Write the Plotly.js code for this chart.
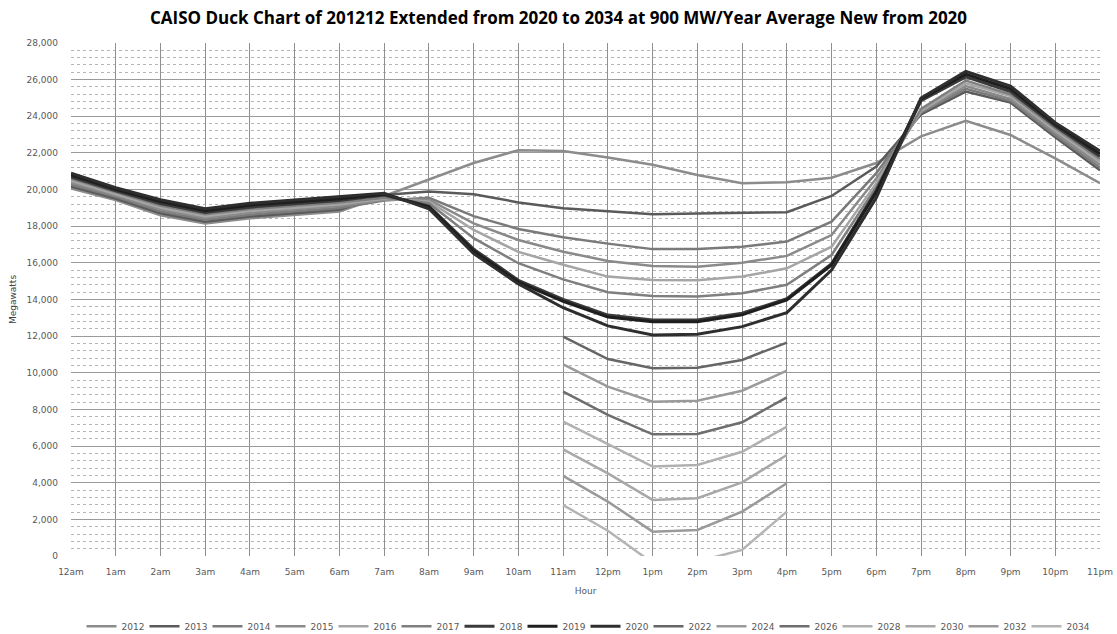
<!DOCTYPE html>
<html>
<head>
<meta charset="utf-8">
<script src="https://cdn.plot.ly/plotly-3.0.1.min.js"></script>
<style>html,body{margin:0;padding:0;background:#fff;}#chart{width:1117px;height:634px;}</style>
</head>
<body>
<div id="chart"></div>
<script>
const hours = ['12am','1am','2am','3am','4am','5am','6am','7am','8am','9am','10am','11am','12pm','1pm','2pm','3pm','4pm','5pm','6pm','7pm','8pm','9pm','10pm','11pm'];
const seriesNames = ['2012','2013','2014','2015','2016','2017','2018','2019','2020','2022','2024','2026','2028','2030','2032','2034'];

const y2012 = [20060,19430,18600,18150,18430,18600,18800,19650,20550,21450,22150,22100,21750,21350,20800,20350,20400,20650,21450,22900,23750,22980,21700,20350];
const y2013 = [20170,19510,18710,18250,18530,18700,18900,19700,19900,19750,19300,18980,18800,18650,18700,18740,18760,19650,21250,24100,25350,24750,22850,21050];
const y2014 = [20270,19600,18810,18350,18630,18810,19000,19400,19550,18550,17850,17400,17050,16750,16750,16880,17160,18250,20900,24200,25500,24850,22970,21200];
const y2015 = [20380,19680,18920,18450,18740,18910,19100,19450,19450,18150,17250,16610,16100,15830,15790,16010,16380,17520,20600,24250,25650,24950,23100,21350];
const y2016 = [20480,19760,19020,18550,18840,19010,19200,19500,19350,17800,16600,15900,15250,15070,15050,15250,15700,16880,20350,24300,25800,25100,23220,21500];
const y2017 = [20590,19850,19130,18650,18940,19120,19300,19550,19250,17350,15980,15100,14400,14190,14160,14340,14800,16430,20150,24400,25950,25200,23350,21650];
const y2018 = [20690,19930,19240,18750,19040,19220,19400,19700,19100,16750,15050,14000,13150,12880,12880,13250,14050,15950,19950,24850,26150,25350,23470,21800];
const y2019 = [20800,20020,19340,18850,19150,19330,19500,19750,19050,16650,14950,13900,13050,12790,12790,13160,13980,15890,19850,24950,26300,25500,23570,21950];
const y2020 = [20900,20100,19450,18950,19250,19430,19600,19800,18950,16500,14850,13550,12560,12060,12100,12520,13280,15610,19550,25000,26450,25650,23650,22100];
const N = null;
const y2022 = [N,N,N,N,N,N,N,N,N,N,N,11970,10750,10250,10280,10700,11650,N,N,N,N,N,N,N];
const y2024 = [N,N,N,N,N,N,N,N,N,N,N,10460,9240,8420,8480,9020,10120,N,N,N,N,N,N,N];
const y2026 = [N,N,N,N,N,N,N,N,N,N,N,8970,7700,6640,6660,7300,8660,N,N,N,N,N,N,N];
const y2028 = [N,N,N,N,N,N,N,N,N,N,N,7330,6110,4880,4970,5690,7060,N,N,N,N,N,N,N];
const y2030 = [N,N,N,N,N,N,N,N,N,N,N,5820,4510,3060,3150,4020,5510,N,N,N,N,N,N,N];
const y2032 = [N,N,N,N,N,N,N,N,N,N,N,4370,2970,1330,1420,2420,3970,N,N,N,N,N,N,N];
const y2034 = [N,N,N,N,N,N,N,N,N,N,N,2780,1380,-380,-300,330,2420,N,N,N,N,N,N,N];

const allY = [y2012,y2013,y2014,y2015,y2016,y2017,y2018,y2019,y2020,y2022,y2024,y2026,y2028,y2030,y2032,y2034];
const colors = ['#8c8c8c','#5a5a5a','#7a7a7a','#8a8a8a','#a5a5a5','#7f7f7f','#3a3a3a','#1e1e1e','#2e2e2e','#666666','#9a9a9a','#6e6e6e','#b0b0b0','#a8a8a8','#9a9a9a','#b4b4b4'];
const widths = [2.5,2.5,2.5,2.5,2.5,2.5,3,3,3,2.5,2.5,2.5,2.5,2.5,2.5,2.5];

const traces = allY.map((y,i)=>({
  type:'scatter', mode:'lines', name:seriesNames[i], x:hours, y:y,
  line:{color:colors[i], width:widths[i]}, connectgaps:false
}));

const layout = {
  width:1117, height:634,
  paper_bgcolor:'#fff', plot_bgcolor:'#fff',
  margin:{l:71, r:17, t:43, b:78, autoexpand:false},
  title:{text:'CAISO Duck Chart of 201212 Extended from 2020 to 2034 at 900 MW/Year Average New from 2020',
    font:{family:'Open Sans, sans-serif', size:17, color:'#000', weight:'bold'},
    x:0.5, xanchor:'center', y:0.972, yanchor:'middle', yref:'container'},
  xaxis:{type:'category', range:[0,23], automargin:false, showgrid:true, gridcolor:'#8f8f8f', gridwidth:1,
    zeroline:false, showline:false, ticks:'', ticklabelstandoff:9,
    tickfont:{family:'DejaVu Sans, sans-serif', size:9, color:'#595959'},
    title:{text:'Hour', font:{family:'DejaVu Sans, sans-serif', size:9, color:'#595959'}, standoff:11}},
  yaxis:{range:[0,28000], dtick:2000, tickformat:',d', automargin:false, showgrid:true, gridcolor:'#9a9a9a', gridwidth:1,
    zeroline:false, showline:false, ticks:'', ticklabelstandoff:12,
    tickfont:{family:'DejaVu Sans, sans-serif', size:9, color:'#595959'},
    minor:{dtick:400, showgrid:true, gridcolor:'#b5b5b5', griddash:'dot', gridwidth:1},
    title:{text:'Megawatts', font:{family:'DejaVu Sans, sans-serif', size:9, color:'#404040'}, standoff:8}},
  showlegend:true,
  legend:{orientation:'h', x:0.5, xanchor:'center', y:-0.137, yanchor:'middle',
    entrywidth:18, entrywidthmode:'pixels', traceorder:'normal',
    font:{family:'DejaVu Sans, sans-serif', size:9, color:'#595959'}}
};

Plotly.newPlot('chart', traces, layout, {displayModeBar:false, staticPlot:true});
</script>
</body>
</html>
